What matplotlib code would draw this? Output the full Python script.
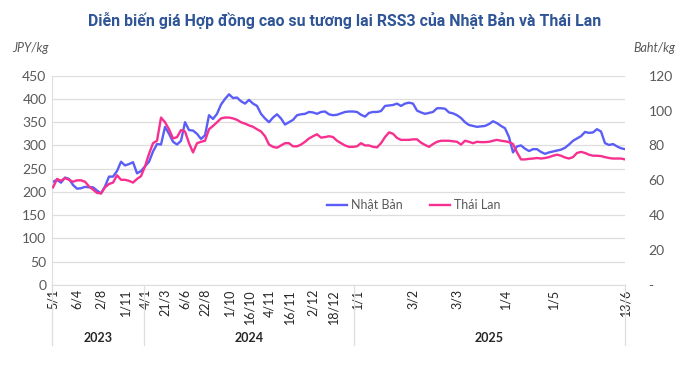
import numpy as np
import matplotlib
matplotlib.use("Agg")
import matplotlib.pyplot as plt
from matplotlib.lines import Line2D

plt.rcParams['font.family'] = ['Lato', 'DejaVu Sans']

title = "Diễn biến giá Hợp đồng cao su tương lai RSS3 của Nhật Bản và Thái Lan"

# Nhat Ban (JPY/kg), weekly-ish points
jpy = [222, 226, 220, 231, 228, 215, 207, 208, 211, 210,
       210, 203, 197, 212, 233, 233, 245, 265, 257, 260,
       264, 240, 245, 255, 265, 287, 303, 302, 340, 325,
       308, 302, 310, 350, 333, 332, 325, 314, 322, 365,
       357, 368, 388, 400, 410, 402, 403, 395, 390, 398,
       390, 385, 368, 358, 350, 360, 367, 358, 345, 350,
       355, 365, 367, 368, 372, 371, 368, 372, 373, 367,
       365, 366, 369, 372, 373, 373, 372, 366, 362, 370,
       372, 372, 374, 385, 386, 387, 390, 385, 390, 392,
       390, 375, 371, 368, 370, 372, 380, 380, 379, 371,
       369, 365, 359, 350, 344, 342, 340, 341, 342, 346,
       352, 348, 342, 337, 318, 285, 298, 300, 293, 288,
       292, 292, 286, 282, 285, 287, 289, 291, 295, 302,
       310, 315, 320, 329, 327, 328, 335, 330, 305, 301,
       303, 298, 294, 292]

# Thai Lan (Baht/kg)
thb = [56.0, 60.8, 59.7, 61.3, 60.3, 59.2, 60.0, 60.0, 59.2, 56.5,
       54.7, 52.8, 52.5, 56.0, 57.9, 58.7, 62.9, 60.3, 60.3, 59.7,
       58.7, 60.8, 62.4, 68.0, 75.2, 81.3, 82.7, 96.0, 93.3, 89.3,
       84.0, 84.8, 88.8, 88.0, 81.3, 76.0, 81.3, 82.1, 82.7, 89.3,
       91.2, 93.3, 95.5, 96.0, 96.0, 95.5, 94.7, 93.3, 92.5, 91.5,
       90.7, 89.3, 88.0, 85.3, 80.5, 79.2, 78.7, 80.0, 81.3, 81.3,
       79.5, 79.5, 80.5, 82.1, 84.0, 85.3, 86.4, 84.5, 84.8, 85.3,
       84.8, 82.7, 81.3, 80.0, 79.2, 79.2, 79.5, 81.3, 80.0, 80.0,
       79.2, 78.9, 81.3, 84.8, 87.5, 86.7, 84.3, 83.2, 83.2, 83.2,
       83.5, 83.5, 81.6, 80.3, 79.2, 80.8, 82.1, 82.7, 82.7, 82.7,
       82.4, 82.1, 80.5, 82.7, 82.1, 81.3, 82.1, 81.9, 81.9, 82.1,
       82.7, 83.2, 82.7, 82.4, 81.9, 80.8, 76.0, 72.0, 72.0, 72.3,
       72.5, 72.8, 72.5, 72.8, 73.3, 74.1, 74.7, 74.1, 73.1, 72.5,
       73.3, 75.7, 76.3, 75.7, 74.7, 74.1, 74.1, 73.9, 73.3, 72.8,
       72.5, 72.5, 72.5, 72.0]

tick_idx = [0, 6, 12, 18, 23, 28, 33, 38, 44, 49, 54, 59, 65, 70, 76, 90, 101, 113, 125, 143]
tick_lbl = ["5/1", "6/4", "2/8", "1/11", "4/1", "21/3", "6/6", "22/8", "1/10", "16/10",
            "4/11", "16/11", "2/12", "18/12", "1/1", "3/2", "3/3", "1/4", "1/5", "13/6"]
years = ["2023", "2024", "2025"]
year_bounds = [-0.25, 22.75, 75.25, 143]

blue = "#5b5ef6"
pink = "#f7308f"
grey = "#595959"
gridc = "#dedede"

fig = plt.figure(figsize=(6.9, 3.72), dpi=100)
ax = fig.add_axes([0.0754, 0.234, 0.8304, 0.5625])
x = np.arange(len(jpy))
l1, = ax.plot(x, jpy, color=blue, lw=1.7, label="Nhật Bản")
ax2 = ax.twinx()
l2, = ax2.plot(np.arange(len(thb)), thb, color=pink, lw=1.7, label="Thái Lan")

ax.set_xlim(year_bounds[0], year_bounds[-1])
ax.set_ylim(0, 450)
ax2.set_ylim(0, 120)
ax.set_yticks(np.arange(0, 451, 50))
ax2.set_yticks(np.arange(0, 121, 20))
ax2.set_yticklabels(["-"] + [str(v) for v in range(20, 121, 20)])

ax.yaxis.grid(True, color=gridc, lw=0.9)
ax.set_axisbelow(True)
for a in (ax, ax2):
    for s in a.spines.values():
        s.set_visible(False)
ax.spines['left'].set_visible(True)
ax.spines['left'].set_color(gridc)
ax.spines['bottom'].set_visible(True)
ax.spines['bottom'].set_color(gridc)

ax.tick_params(axis='y', length=0, pad=4, labelsize=10, labelcolor=grey)
ax2.tick_params(axis='y', length=0, pad=17, labelsize=10, labelcolor=grey)
ax.set_xticks(tick_idx)
ax.set_xticklabels(tick_lbl, rotation=90, fontsize=9, color="#262626")
ax.tick_params(axis='x', length=0, pad=3)

tr = ax.get_xaxis_transform()
for b in year_bounds:
    ax.add_line(Line2D([b, b], [0, -0.287], transform=tr, color=gridc, lw=0.9, clip_on=False))
for i, yr in enumerate(years):
    ax.text((year_bounds[i] + year_bounds[i + 1]) / 2, -0.253, yr, transform=tr,
            ha='center', va='center', fontsize=9, fontweight='bold', color="#262626")

fig.legend(handles=[l1, l2], loc='center', bbox_to_anchor=(414 / 690, 1 - 205 / 372),
           ncol=2, frameon=False, fontsize=9, handlelength=1.6, columnspacing=2.2,
           handletextpad=0.3, labelcolor=grey)

fig.text(0.5, 1 - 20 / 372, title, ha='center', va='center', fontsize=11.4,
         fontweight='bold', color="#2f5597", family=['Roboto', 'DejaVu Sans'])
fig.text(12 / 690, 1 - 48 / 372, "JPY/kg", ha='left', va='center', fontsize=9,
         style='italic', color=grey)
fig.text(675 / 690, 1 - 48 / 372, "Baht/kg", ha='right', va='center', fontsize=9,
         style='italic', color=grey)

fig.savefig("out.png", dpi=100)
